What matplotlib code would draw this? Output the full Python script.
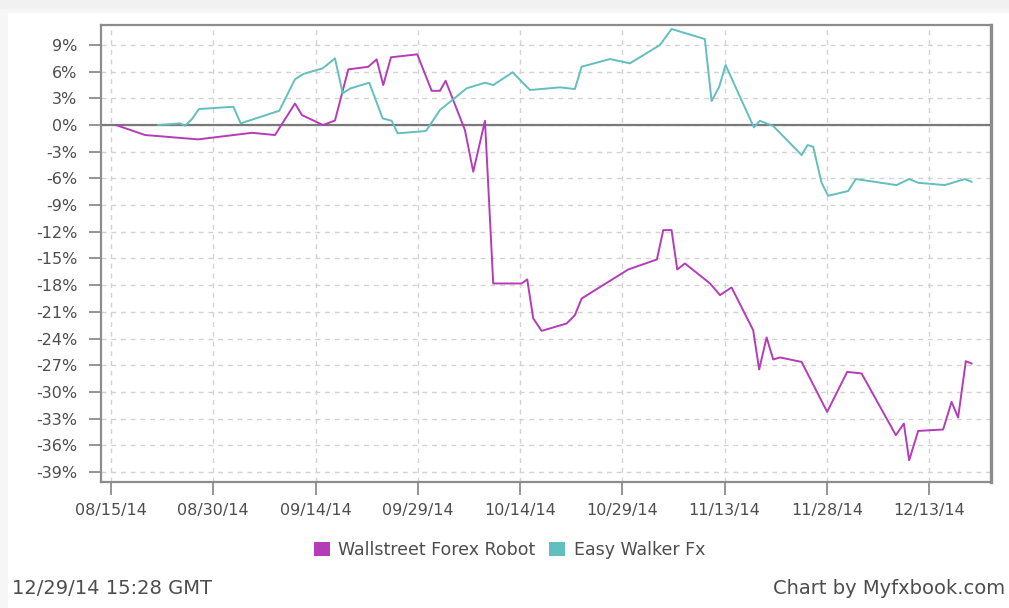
import pandas as pd
import matplotlib
matplotlib.use('Agg')
import matplotlib.pyplot as plt
import matplotlib.dates as mdates
from matplotlib.patches import Patch, Rectangle

start = pd.Timestamp('2014-08-15')

# days after 08/15/14, growth in %
wallstreet_days = [0.73, 4.99, 12.76, 20.68, 24.05, 26.98, 28.01, 31.09, 32.85, 34.80,
                   37.73, 38.96, 39.93, 41.06, 44.92, 47.03, 48.25, 49.08, 51.91, 53.13,
                   54.85, 56.06, 60.23, 61.05, 61.93, 63.16, 66.83, 68.04, 69.03, 75.86,
                   80.07, 81.00, 82.22, 83.05, 84.18, 87.86, 89.32, 91.02, 94.19, 95.07,
                   96.16, 97.13, 98.11, 101.29, 105.04, 107.98, 110.09, 115.12, 116.29,
                   117.07, 118.39, 122.05, 123.29, 124.25, 125.38, 126.22]
wallstreet_vals = [0.0, -1.12, -1.61, -0.87, -1.12, 2.42, 1.12, 0.0, 0.51, 6.26,
                   6.55, 7.39, 4.5, 7.62, 7.95, 3.85, 3.85, 4.98, -0.56, -5.25,
                   0.48, -17.81, -17.81, -17.36, -21.74, -23.14, -22.31, -21.37, -19.5, -16.24,
                   -15.11, -11.81, -11.81, -16.24, -15.56, -17.81, -19.12, -18.26, -23.06, -27.48,
                   -23.88, -26.36, -26.13, -26.63, -32.25, -27.75, -27.93, -34.87, -33.56,
                   -37.69, -34.39, -34.23, -31.13, -32.88, -26.55, -26.81]

walker_days = [6.94, 10.12, 10.85, 11.83, 12.90, 17.94, 19.02, 24.68, 26.98, 28.20,
               31.05, 32.85, 33.98, 35.15, 37.88, 39.84, 41.16, 42.04, 46.19, 48.25,
               52.16, 54.85, 56.06, 58.91, 61.45, 65.85, 68.04, 69.03, 73.18, 76.11,
               80.51, 82.22, 87.10, 88.09, 89.21, 90.14, 94.29, 95.17, 97.13, 101.29,
               102.17, 102.99, 104.22, 105.19, 108.12, 109.25, 115.22, 117.07, 118.39,
               122.3, 125.24, 126.22]
walker_vals = [0.0, 0.19, -0.08, 0.64, 1.80, 2.06, 0.19, 1.61, 5.14, 5.74,
               6.38, 7.50, 3.57, 4.13, 4.76, 0.75, 0.48, -0.93, -0.67, 1.69,
               4.13, 4.76, 4.50, 5.93, 3.94, 4.24, 4.05, 6.56, 7.42, 6.94,
               9.0, 10.80, 9.67, 2.70, 4.31, 6.75, -0.26, 0.48, -0.11, -3.37,
               -2.25, -2.44, -6.49, -7.95, -7.42, -6.07, -6.75, -6.07, -6.49,
               -6.75, -6.07, -6.38]

y_ticks = list(range(-39, 10, 3))
x_ticks = pd.date_range('2014-08-15', periods=9, freq='15D')

purple = '#b53cb8'
teal = '#62bfbf'
txt = '#4d4d4d'

ws_dates = start + pd.to_timedelta(wallstreet_days, unit='D')
ew_dates = start + pd.to_timedelta(walker_days, unit='D')

fig = plt.figure(figsize=(10.09, 6.08), dpi=100, facecolor='#f6f6f6')
fig.patches.append(Rectangle((8 / 1009, 0), 1, 1 - 13 / 608, transform=fig.transFigure,
                             facecolor='white', edgecolor='none', zorder=-2))
fig.patches.append(Rectangle((0, 1 - 9 / 608), 1, 9 / 608, transform=fig.transFigure,
                             facecolor='#f1f1f1', edgecolor='none', zorder=-2))

ax = fig.add_axes([101 / 1009, 1 - 481.7 / 608, 889.5 / 1009, 456.7 / 608])
ax.set_facecolor('white')

ax.grid(True, color='#d2d2d2', linestyle=(0, (3.5, 3.5)), linewidth=1)
ax.axhline(0, color='#7a7a7a', linewidth=1.6, zorder=2)
ax.plot(ws_dates, wallstreet_vals, color=purple, linewidth=1.4, zorder=3)
ax.plot(ew_dates, walker_vals, color=teal, linewidth=1.4, zorder=3)

ax.set_xlim(start - pd.Timedelta(days=1.47), start + pd.Timedelta(days=129.0))
ax.set_ylim(-40.1, 11.25)
ax.set_yticks(y_ticks)
ax.set_yticklabels([f'{v}%' for v in y_ticks])
ax.set_xticks(x_ticks)
ax.xaxis.set_major_formatter(mdates.DateFormatter('%m/%d/%y'))

for s in ax.spines.values():
    s.set_color('#8c8c8c')
    s.set_linewidth(1.6)
ax.spines['right'].set_linewidth(2.4)

ax.tick_params(axis='y', length=9, width=1.3, color='#8c8c8c', pad=8,
               labelsize=11.5, labelcolor=txt)
ax.tick_params(axis='x', length=9, width=1.3, color='#8c8c8c', pad=6,
               labelsize=11.5, labelcolor=txt)

handles = [Patch(facecolor=purple, edgecolor='none', label='Wallstreet Forex Robot'),
           Patch(facecolor=teal, edgecolor='none', label='Easy Walker Fx')]
leg = fig.legend(handles=handles, loc='center', bbox_to_anchor=(0.505, 1 - 550 / 608),
                 ncol=2, frameon=False, fontsize=12.5, handlelength=0.9, handleheight=0.9,
                 handletextpad=0.5, columnspacing=0.8)
for t in leg.get_texts():
    t.set_color(txt)

fig.text(12 / 1009, 1 - 589 / 608, '12/29/14 15:28 GMT', fontsize=14, color=txt,
         ha='left', va='center')
fig.text(1005 / 1009, 1 - 589 / 608, 'Chart by Myfxbook.com', fontsize=14, color=txt,
         ha='right', va='center')

fig.savefig('out.png', dpi=100, facecolor=fig.get_facecolor())
